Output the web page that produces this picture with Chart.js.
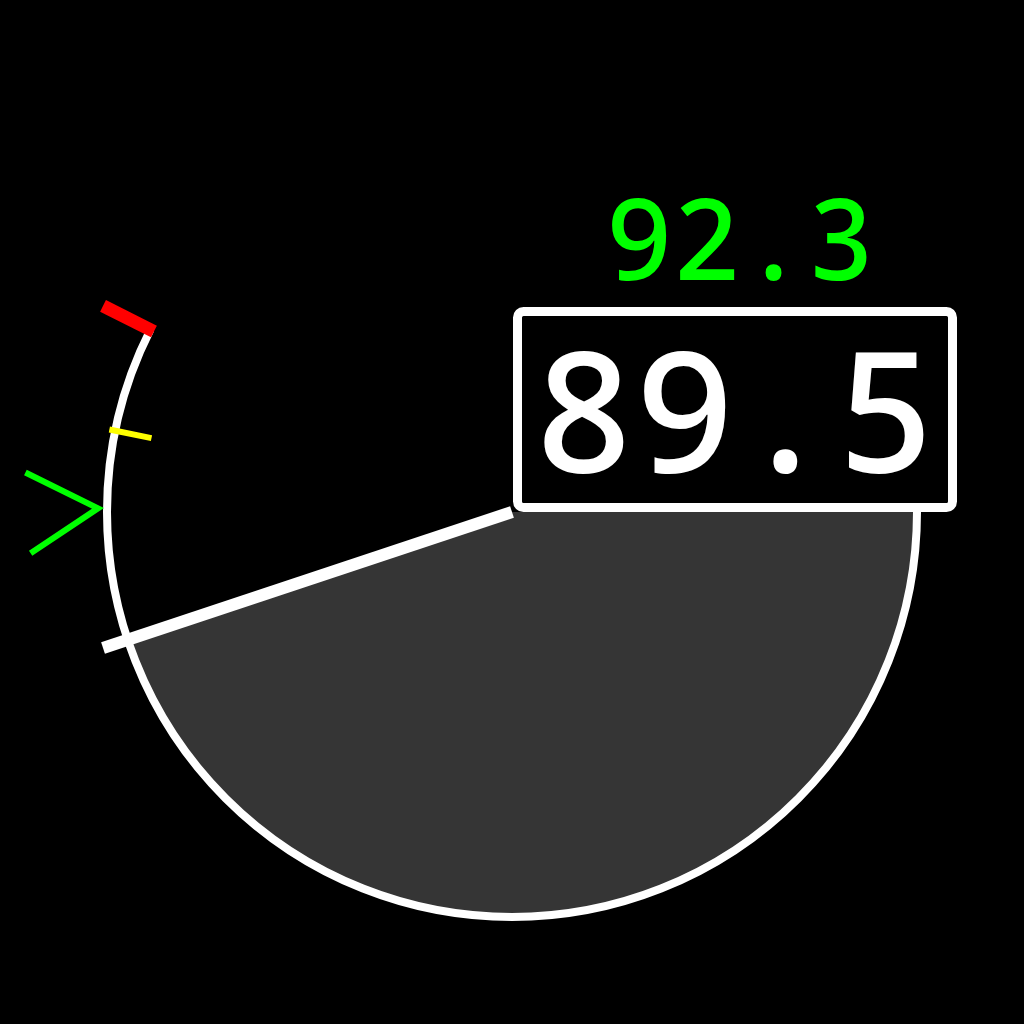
<!DOCTYPE html>
<html>
<head>
<meta charset="utf-8">
<script src="https://cdn.jsdelivr.net/npm/chart.js@4"></script>
<style>
  html, body { margin: 0; padding: 0; background: #000; }
  #wrap { width: 1024px; height: 1024px; }
</style>
</head>
<body>
<div id="wrap"><canvas id="gauge"></canvas></div>
<script>
// gauge scale: value scaleMax sits at gaugeSweep degrees clockwise from 3 o'clock
var scaleMax = 110;
var gaugeSweep = 210;

// readouts shown as text: actual, commanded
var readoutLabels = ['actual', 'commanded'];
var readoutValues = [89.5, 92.3];

// marks on the dial (in gauge units)
var markNames = ['needle', 'command', 'caution', 'redline'];
var markValues = [84.65, 94.55, 100.35, 108.3];

var fullCircle = scaleMax * 360 / gaugeSweep;
var monoFont = '"Noto Sans Mono", "Liberation Mono"';

function angleOf(meta, v) {
  var arc = meta.data[0];
  return arc.startAngle + v / meta.total * Math.PI * 2;
}

function ray(ctx, x, y, a, r0, r1) {
  ctx.beginPath();
  ctx.moveTo(x + Math.cos(a) * r0, y + Math.sin(a) * r0);
  ctx.lineTo(x + Math.cos(a) * r1, y + Math.sin(a) * r1);
  ctx.stroke();
}

var dialPlugin = {
  id: 'dial',
  afterDatasetsDraw: function(chart) {
    var ctx = chart.ctx;
    var meta = chart.getDatasetMeta(0);
    var arc = meta.data[0];
    var cx = arc.x, cy = arc.y, R = arc.outerRadius;
    var red = angleOf(meta, markValues[3]);
    var yel = angleOf(meta, markValues[2]);
    var cmd = angleOf(meta, markValues[1]);

    ctx.save();
    ctx.lineCap = 'butt';

    // dial outline
    ctx.strokeStyle = '#ffffff';
    ctx.lineWidth = 8;
    ctx.beginPath();
    ctx.arc(cx, cy, R, arc.startAngle, red);
    ctx.stroke();

    // needle at the end of the filled sector
    ctx.lineWidth = 12;
    ray(ctx, cx, cy, arc.endAngle, 0, R + 26);

    // caution tick
    ctx.strokeStyle = '#ffff00';
    ctx.lineWidth = 6;
    ray(ctx, cx, cy, yel, R - 37, R + 6);

    // redline tick
    ctx.strokeStyle = '#ff0000';
    ctx.lineWidth = 13;
    ray(ctx, cx, cy, red, R - 4, R + 53);

    // commanded chevron
    var tr = R + 9;
    var tx = cx + Math.cos(cmd) * tr, ty = cy + Math.sin(cmd) * tr;
    var axis = cmd - 4.2 * Math.PI / 180;
    var spread = 30 * Math.PI / 180, armLen = 81;
    ctx.strokeStyle = '#00ff00';
    ctx.lineWidth = 6;
    ctx.lineJoin = 'miter';
    ctx.beginPath();
    ctx.moveTo(tx + Math.cos(axis + spread) * armLen, ty + Math.sin(axis + spread) * armLen);
    ctx.lineTo(tx, ty);
    ctx.lineTo(tx + Math.cos(axis - spread) * armLen, ty + Math.sin(axis - spread) * armLen);
    ctx.stroke();

    // readout box
    var bx = cx + 5.5, by = cy - 200.5, bw = 435, bh = 196;
    ctx.fillStyle = '#000000';
    ctx.strokeStyle = '#ffffff';
    ctx.lineWidth = 9;
    ctx.beginPath();
    ctx.roundRect(bx, by, bw, bh, 6);
    ctx.fill();
    ctx.stroke();

    ctx.textAlign = 'center';
    ctx.textBaseline = 'alphabetic';
    ctx.fillStyle = '#ffffff';
    ctx.font = '500 168px ' + monoFont;
    ctx.fillText(readoutValues[0].toFixed(1), bx + bw / 2, cy - 40);

    ctx.fillStyle = '#00ff00';
    ctx.font = '500 112px ' + monoFont;
    ctx.fillText(readoutValues[1].toFixed(1), cx + 228, cy - 232);

    ctx.restore();
  }
};

var ch = document.getElementById('gauge').getContext('2d');
var gauge = new Chart(ch, {
  type: 'doughnut',
  data: {
    labels: ['filled', 'empty'],
    datasets: [{
      data: [markValues[0], fullCircle - markValues[0]],
      backgroundColor: ['#353535', 'rgba(0,0,0,0)'],
      borderWidth: 0
    }]
  },
  options: {
    responsive: true,
    maintainAspectRatio: false,
    animation: false,
    events: [],
    rotation: 90,
    circumference: 360,
    cutout: 0,
    radius: 405,
    layout: { padding: 0 },
    plugins: {
      legend: { display: false },
      tooltip: { enabled: false }
    }
  },
  plugins: [dialPlugin]
});
</script>
</body>
</html>
